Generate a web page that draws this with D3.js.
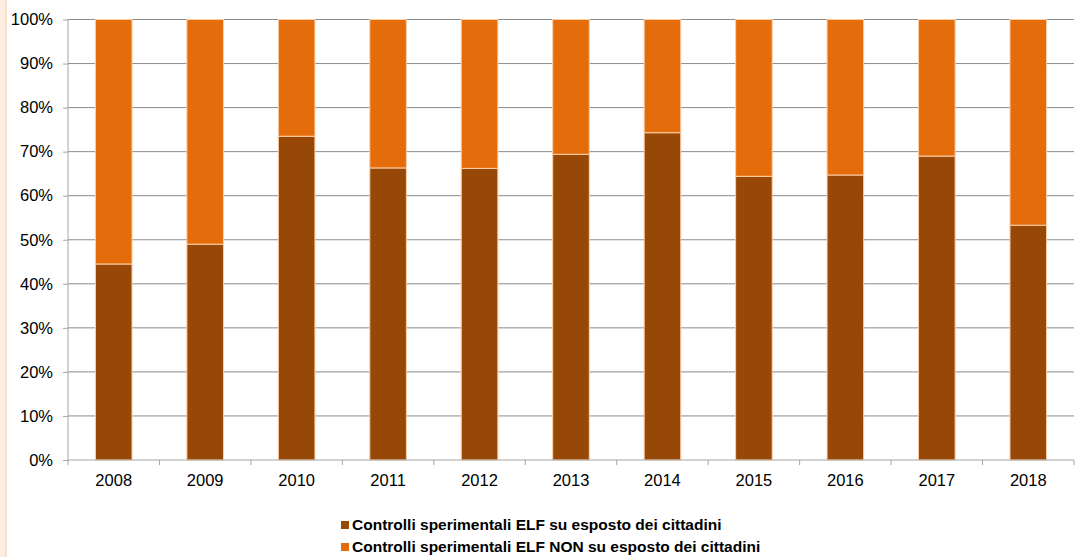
<!DOCTYPE html>
<html>
<head>
<meta charset="utf-8">
<script src="https://cdnjs.cloudflare.com/ajax/libs/d3/7.8.5/d3.min.js"></script>
<style>
  body { margin: 0; background: #fff; }
  svg { font-family: "Liberation Sans", Arial, sans-serif; }
</style>
</head>
<body>
<svg width="1077" height="557"></svg>
<script>
var years = ["2008", "2009", "2010", "2011", "2012", "2013", "2014", "2015", "2016", "2017", "2018"];
var suEsposto = [44.5, 49.0, 73.5, 66.3, 66.2, 69.4, 74.3, 64.4, 64.7, 69.0, 53.3];
var nonSuEsposto = suEsposto.map(function(v) { return 100 - v; });
var seriesNames = ["Controlli sperimentali ELF su esposto dei cittadini",
                   "Controlli sperimentali ELF NON su esposto dei cittadini"];
var colors = ["#984806", "#e46c0a"];
var yTicks = [0, 10, 20, 30, 40, 50, 60, 70, 80, 90, 100];

var svg = d3.select("svg"),
    width = +svg.attr("width"),
    height = +svg.attr("height");

// left frame strip
svg.append("rect").attr("x", 0).attr("y", 0).attr("width", 6).attr("height", height)
    .attr("fill", "#fdeee2");
svg.append("line").attr("x1", 6).attr("x2", 6).attr("y1", 0).attr("y2", height)
    .attr("stroke", "#fbd9bd").attr("stroke-width", 1.5);

var pLeft = 68, pRight = 1074, pTop = 19.5, pBottom = 460;

var x = d3.scaleBand().domain(years).range([pLeft, pRight]).paddingInner(0.6).paddingOuter(0.3);
var xCat = d3.scaleBand().domain(years).range([pLeft, pRight]);
var y = d3.scaleLinear().domain([0, 100]).range([pBottom, pTop]);

// gridlines
svg.append("g").selectAll("line")
    .data(yTicks.slice(1))
    .enter().append("line")
      .attr("x1", pLeft).attr("x2", pRight)
      .attr("y1", function(d) { return y(d); })
      .attr("y2", function(d) { return y(d); })
      .attr("stroke", "#8c8c8c").attr("stroke-width", 1);

var data = years.map(function(yr, i) {
  return { year: yr, a: suEsposto[i], b: nonSuEsposto[i] };
});
var stacked = d3.stack().keys(["a", "b"])(data);

svg.append("g").selectAll("g")
    .data(stacked)
    .enter().append("g")
      .attr("fill", function(d, i) { return colors[i]; })
    .selectAll("rect")
    .data(function(d) { return d; })
    .enter().append("rect")
      .attr("x", function(d) { return x(d.data.year); })
      .attr("width", x.bandwidth())
      .attr("y", function(d) { return y(d[1]); })
      .attr("height", function(d) { return y(d[0]) - y(d[1]); })
      .attr("stroke", "#fbcfa8")
      .attr("stroke-width", 1);

// y axis
var yAxis = svg.append("g")
    .attr("transform", "translate(" + pLeft + ",0)")
    .call(d3.axisLeft(y).tickValues(yTicks).tickFormat(function(d) { return d + "%"; })
      .tickSize(5).tickPadding(10));
yAxis.select(".domain").attr("stroke", "#a6a6a6").attr("d", "M0," + pTop + "V" + pBottom);
yAxis.selectAll(".tick line").attr("stroke", "#a6a6a6");
yAxis.selectAll("text").attr("font-size", 16.5).attr("fill", "#000")
    .attr("font-family", "Liberation Sans, Arial, sans-serif");

// x axis
var xAxis = svg.append("g")
    .attr("transform", "translate(0," + pBottom + ")")
    .call(d3.axisBottom(xCat).tickSize(0).tickPadding(14));
xAxis.select(".domain").attr("stroke", "#a6a6a6").attr("d", "M" + pLeft + ",0H" + pRight);
xAxis.selectAll("text").attr("font-size", 16.5).attr("fill", "#000")
    .attr("font-family", "Liberation Sans, Arial, sans-serif");
svg.append("g").selectAll("line")
    .data(years.concat(["end"]))
    .enter().append("line")
      .attr("x1", function(d, i) { return pLeft + i * xCat.step(); })
      .attr("x2", function(d, i) { return pLeft + i * xCat.step(); })
      .attr("y1", pBottom).attr("y2", pBottom + 5)
      .attr("stroke", "#a6a6a6");

// legend
var legend = svg.append("g").selectAll("g")
    .data(seriesNames)
    .enter().append("g")
      .attr("transform", function(d, i) { return "translate(341," + (525 + i * 22) + ")"; });
legend.append("rect")
    .attr("x", 0).attr("y", -4).attr("width", 8).attr("height", 8)
    .attr("fill", function(d, i) { return colors[i]; });
legend.append("text")
    .attr("x", 11).attr("y", 0).attr("dy", "0.35em")
    .attr("font-size", 15.5).attr("font-weight", "bold").attr("fill", "#000")
    .text(function(d) { return d; });
</script>
</body>
</html>
